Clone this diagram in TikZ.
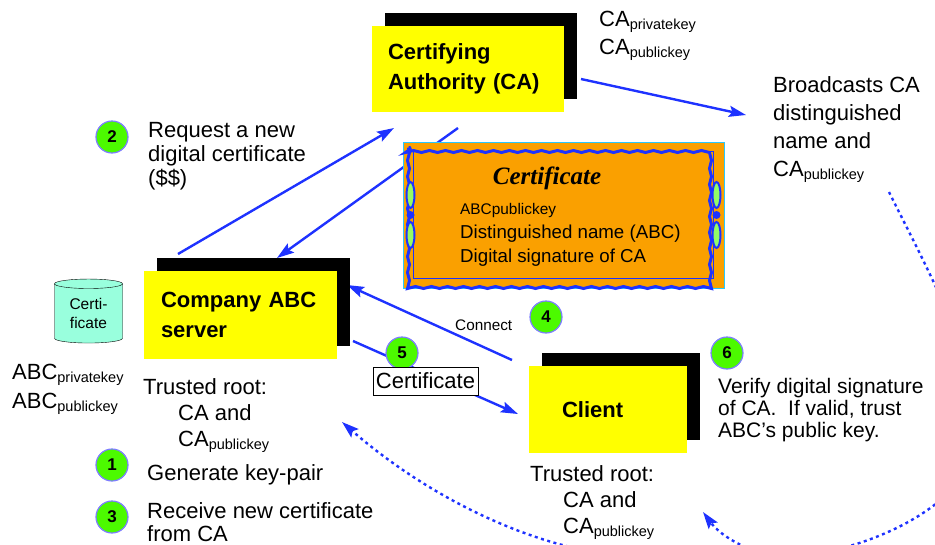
\documentclass[tikz,border=0pt]{standalone}
\usepackage{fontspec}
\setmainfont{Liberation Sans}
\newfontfamily\certfont{Liberation Serif}
\usetikzlibrary{shapes.geometric,shadows,arrows.meta,decorations.pathmorphing,backgrounds}

\definecolor{linkblue}{RGB}{30,50,255}
\definecolor{boxyellow}{RGB}{255,255,0}
\definecolor{stepgreen}{RGB}{76,250,0}
\definecolor{ringblue}{RGB}{125,125,255}
\definecolor{certorange}{RGB}{250,160,0}
\definecolor{certrim}{RGB}{40,200,255}
\definecolor{dbteal}{RGB}{153,255,221}

\newcommand{\keysub}[1]{\raisebox{-3pt}{\fontsize{14.5}{15}\selectfont #1}}

\tikzset{
	party/.style={rectangle, fill=boxyellow, inner sep=0pt, minimum height=87pt, align=left,
		font=\fontsize{22}{30}\selectfont\bfseries,
		drop shadow={shadow xshift=13pt, shadow yshift=13pt, fill=black, opacity=1}},
	numdot/.style={circle, fill=stepgreen, draw=ringblue, line width=1.2pt, minimum size=32pt,
		inner sep=0pt, font=\fontsize{17}{17}\selectfont\bfseries},
	note/.style={anchor=west, inner sep=0pt, align=left, font=\fontsize{22}{24}\selectfont},
	link/.style={draw=linkblue, line width=2.4pt, -{Stealth[length=17pt,width=11pt,inset=3pt]}},
	dotlink/.style={link, dash pattern=on 3pt off 3.5pt}
}

\begin{document}
\begin{tikzpicture}[x=1pt, y=-1pt]
\useasboundingbox (0,0) rectangle (935,544);

% parties
\node[party, minimum width=192pt, text width=160pt, inner xsep=16pt, minimum height=86pt] (ca) at (468,69) {Certifying\\Authority (CA)};
\node[party, minimum width=193pt, text width=159pt, inner xsep=17pt, minimum height=88pt] (abc) at (240.5,315) {Company ABC\\server};
\node[party, minimum width=158pt, text width=92pt, inner xsep=33pt] (client) at (608,409.5) {Client};

% keys and trust roots
\node[note, font=\fontsize{22}{28}\selectfont] (cakeys) at (599,36) {CA\keysub{privatekey}\\CA\keysub{publickey}};
\node[note, font=\fontsize{22}{29}\selectfont] (abckeys) at (12,389) {ABC\keysub{privatekey}\\ABC\keysub{publickey}};
\node[note, font=\fontsize{22}{26}\selectfont] (abcroot) at (143,416) {Trusted root:\\\hspace*{35pt}CA and\\\hspace*{35pt}CA\keysub{publickey}};
\node[note, font=\fontsize{22}{26}\selectfont] (clientroot) at (530,503) {Trusted root:\\\hspace*{33pt}CA and\\\hspace*{33pt}CA\keysub{publickey}};
\node[cylinder, shape border rotate=90, aspect=0.25, draw, fill=dbteal, minimum width=68pt, minimum height=64pt,
	inner sep=0pt, align=center, font=\fontsize{15.5}{19}\selectfont] (store) at (88.5,313.5) {Certi-\\ficate};

% the certificate itself
\node[draw=certrim, fill=certorange, line width=1pt, minimum width=321pt, minimum height=146pt, inner sep=0pt] (card) at (563.5,215) {};
\draw[linkblue, line width=3pt, decorate, decoration={snake, amplitude=1pt, segment length=16pt}]
	([shift={(6,6)}]card.north west) rectangle ([shift={(-6,-6)}]card.south east);
\draw[linkblue, line width=1pt] ([shift={(11,10)}]card.north west) rectangle ([shift={(-11,-10)}]card.south east);
\foreach \side/\dx in {west/8, east/-8} {
	\foreach \dy in {-20,20}
		\draw[linkblue, line width=2pt, fill=stepgreen!60] ([shift={(\dx,\dy)}]card.\side) ellipse (4 and 13);
	\fill[linkblue] ([shift={(\dx,0)}]card.\side) circle (4);
}
\node[inner sep=0pt, font=\certfont\fontsize{25}{25}\selectfont\bfseries\itshape] (certtitle) at (547,178) {Certificate};
\node[anchor=west, inner sep=0pt, font=\fontsize{15.4}{16}\selectfont] (certkey) at (460,211) {ABCpublickey};
\node[anchor=west, inner sep=0pt, font=\fontsize{18.7}{19}\selectfont] (certname) at (460,234) {Distinguished name (ABC)};
\node[anchor=west, inner sep=0pt, font=\fontsize{18.7}{19}\selectfont] (certsig) at (460,258) {Digital signature of CA};

% steps
\node[numdot] (s1) at (112,465) {1};
\node[numdot] (s2) at (112,137) {2};
\node[numdot] (s3) at (112,517) {3};
\node[numdot] (s4) at (546,317) {4};
\node[numdot] (s5) at (402,353) {5};
\node[numdot] (s6) at (727,353) {6};
\node[note] (t1) at (147,475) {Generate key-pair};
\node[note] (t2) at (148,156) {Request a new\\digital certificate\\(\$\$)};
\node[note, font=\fontsize{22}{23}\selectfont] (t3) at (147,522) {Receive new certificate\\from CA};
\node[note, font=\fontsize{21}{22}\selectfont] (t6) at (718,410) {Verify digital signature\\of CA.~ If valid, trust\\ABC{\char"0027}s public key.};
\node[note, font=\fontsize{22}{28}\selectfont] (bcast) at (773,130) {Broadcasts CA\\distinguished\\name and\\CA\keysub{publickey}};
\node[note, font=\fontsize{15.3}{16}\selectfont] (connect) at (455,325) {Connect};
\node[draw, fill=white, line width=0.8pt, minimum width=105pt, minimum height=28pt, inner sep=0pt,
	font=\fontsize{22}{22}\selectfont] (certlabel) at (425.5,381) {Certificate};

% connectors
\coordinate (reqfrom) at (178,254);  \coordinate (reqto) at (394,128);
\coordinate (isfrom) at (458,128);   \coordinate (isto) at (277,258);
\coordinate (bcfrom) at (581,79);    \coordinate (bcto) at (746,115);
\coordinate (cnfrom) at (512,360);   \coordinate (cnto) at (347,285);
\coordinate (dlfrom) at (353,341);   \coordinate (dlto) at (518,414);
\coordinate (rootto) at (703,512);   \coordinate (abcrootto) at (342,422);
\begin{scope}[on background layer]
	\draw[link] (reqfrom) -- (reqto);
	\draw[link] (isfrom) -- (isto);
	\draw[link] (bcfrom) -- (bcto);
	\draw[link] (cnfrom) -- (cnto);
	\draw[link] (dlfrom) -- (dlto);
	\clip (0,0) rectangle (935,544);
	\draw[dotlink] (889,192) .. controls (925,265) and (990,380) .. (975,450)
		.. controls (958,515) and (850,555) .. (790,556)
		.. controls (750,556) and (720,535) .. (rootto);
	\draw[dotlink] (620,556) .. controls (520,545) and (420,490) .. (abcrootto);
\end{scope}
\end{tikzpicture}
\end{document}
